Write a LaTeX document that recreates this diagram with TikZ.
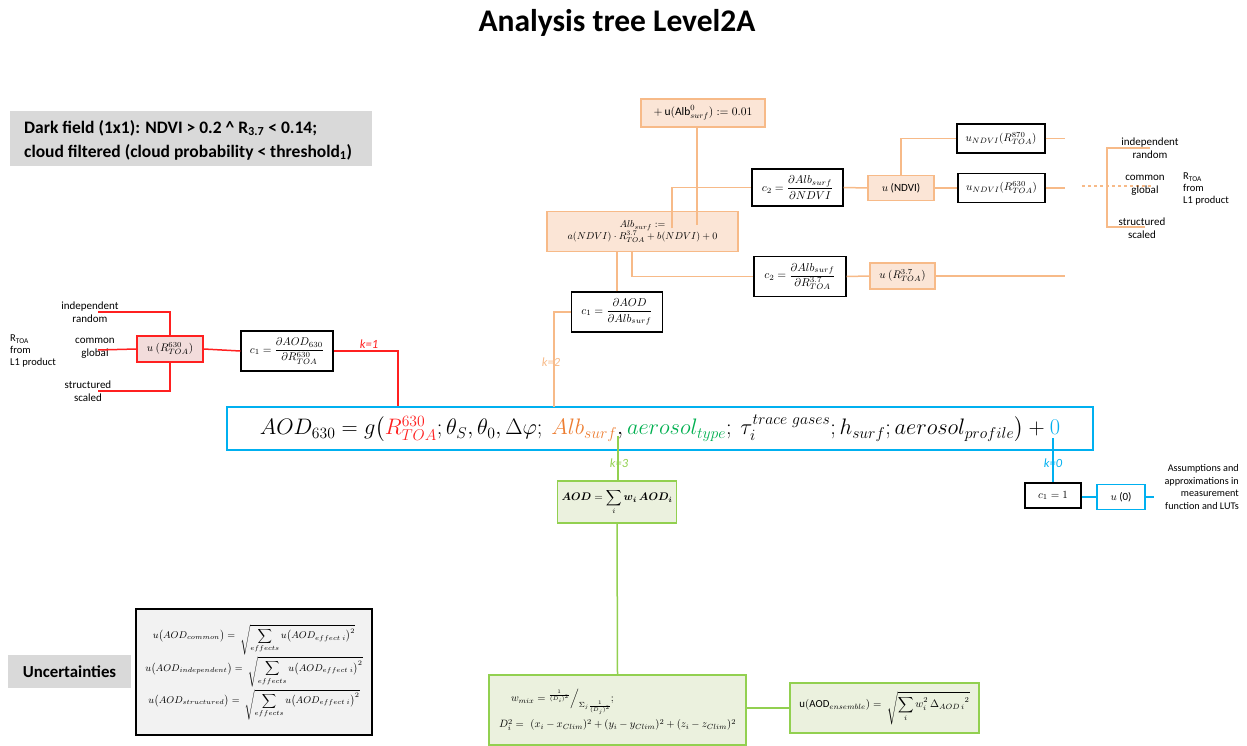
\RequirePackage{fix-cm}
\documentclass[tikz,border=0pt]{standalone}
\usepackage{amsmath}
\usepackage{fontspec}
\setmainfont{Carlito}
\setsansfont{Carlito}
\usetikzlibrary{calc}
\definecolor{cred}{HTML}{FF2020}
\definecolor{cpink}{HTML}{F2DCDB}
\definecolor{corl}{HTML}{F7BA88}
\definecolor{corf}{HTML}{FBE5D6}
\definecolor{cort}{HTML}{ED7D31}
\definecolor{cgrl}{HTML}{92D050}
\definecolor{cgrf}{HTML}{EBF1DE}
\definecolor{cgrt}{HTML}{00B050}
\definecolor{cblu}{HTML}{00B0F0}
\definecolor{cgray}{HTML}{D9D9D9}
\definecolor{cgrayf}{HTML}{F2F2F2}
\begin{document}
\begin{tikzpicture}[x=1pt,y=-1pt,
 base/.style={inner sep=1pt, align=center, font=\fontsize{11}{13}\selectfont},
 kbox/.style={base, draw=black, line width=1.4pt, fill=white},
 rbox/.style={base, draw=cred, line width=1.4pt, fill=cpink},
 obox/.style={base, draw=corl, line width=1.4pt, fill=corf},
 gbox/.style={base, draw=cgrl, line width=1.6pt, fill=cgrf},
 bbox/.style={base, draw=cblu, line width=1.4pt, fill=white},
 graybox/.style={fill=cgray, draw=none, inner sep=0pt},
 lbl/.style={align=center, font=\fontsize{11}{13}\selectfont, inner sep=0pt},
 klbl/.style={font=\fontsize{12.5}{14}\selectfont\itshape, inner sep=0pt},
 rl/.style={draw=cred, line width=1.5pt},
 ol/.style={draw=corl, line width=1.5pt},
 gl/.style={draw=cgrl, line width=1.5pt},
 bl/.style={draw=cblu, line width=1.5pt},
 ]
\useasboundingbox (0,0) rectangle (1247,746);

% title
\node[font=\fontsize{31.5}{36}\selectfont\bfseries, inner sep=0pt] (title) at (617,23) {Analysis tree Level2A};

% dark field box
\node[graybox, minimum width=362, minimum height=55] (dark) at (191,138.5) {};
\node[anchor=west, align=left, inner sep=0pt, font=\fontsize{17.5}{24}\selectfont\bfseries] (darkt) at (24,140)
  {Dark field (1x1): NDVI > 0.2 \^{} R\textsubscript{3.7} < 0.14;\\cloud filtered (cloud probability < threshold\textsubscript{1})};

% ---------- red branch ----------
\node[rbox, minimum width=66, minimum height=26] (uR) at (170,349) {$u\ (R^{630}_{TOA})$};
\node[kbox, minimum width=92, minimum height=40, font=\fontsize{11.2}{13}\selectfont] (c1r) at (287,351) {$c_1=\dfrac{\partial AOD_{630}}{\partial R^{630}_{TOA}}$};
\node[lbl] (lind) at (90,312) {independent\\random};
\node[lbl] (lcom) at (95,348) {common\\global};
\node[lbl] (lstr) at (88,391) {structured\\scaled};
\node[anchor=west, align=left, inner sep=0pt, font=\fontsize{10.5}{12}\selectfont] (lrtoa) at (10,351) {R\textsubscript{TOA}\\from\\L1 product};
\coordinate (pind) at (98,312);
\coordinate (pcom) at (98,350);
\coordinate (pstr) at (98,391);
\coordinate (k1top) at (398,407);
\draw[rl] (uR.north) |- (pind);
\draw[rl] (uR.west) -- (pcom);
\draw[rl] (uR.south) |- (pstr);
\draw[rl] (uR.east) -- (c1r.west);
\draw[rl] (c1r.east) -| (k1top);
\node[klbl, text=cred] (k1) at (369,344) {k=1};

% ---------- main equation ----------
\node[bbox, minimum width=866, minimum height=43, font=\fontsize{22.4}{26}\selectfont] (main) at (660,428.5)
 {$AOD_{630} = g\big(\textcolor{cred}{R^{630}_{TOA}};\theta_S,\theta_0,\Delta\varphi;\ \textcolor{cort}{Alb_{surf}},\textcolor{cgrt}{aerosol_{type}};\ \tau_i^{trace\ gases};h_{surf};aerosol_{profile}\big)+\textcolor{cblu}{0}$};

% ---------- orange branch ----------
\node[obox, minimum width=124, minimum height=28, font=\fontsize{11.5}{13}\selectfont] (up01) at (703,113) {$+\,\mathrm{u}(\mathrm{Alb}^{0}_{surf}) \mathrel{:}= 0.01$};
\node[obox, minimum width=191, minimum height=40, font=\fontsize{10}{11.5}\selectfont] (alb) at (642.5,231.5) {$Alb_{surf}\mathrel{:}=$\\$a(NDVI)\cdot R^{3.7}_{TOA}+b(NDVI)+0$};
\node[kbox, minimum width=91, minimum height=37, font=\fontsize{11.4}{13}\selectfont] (c2) at (797.5,187.5) {$c_2=\dfrac{\partial Alb_{surf}}{\partial NDVI}$};
\node[kbox, minimum width=92, minimum height=40, font=\fontsize{11.4}{13}\selectfont] (c3) at (800,276.5) {$c_2=\dfrac{\partial Alb_{surf}}{\partial R^{3.7}_{TOA}}$};
\node[kbox, minimum width=91, minimum height=40, font=\fontsize{11.4}{13}\selectfont] (c1o) at (617,312) {$c_1=\dfrac{\partial AOD}{\partial Alb_{surf}}$};
\node[obox, minimum width=66, minimum height=25] (uNDVI) at (901,188) {$u$ (NDVI)};
\node[obox, minimum width=65, minimum height=26] (uR37) at (902.5,276) {$u\ (R^{3.7}_{TOA})$};
\node[kbox, minimum width=88, minimum height=29] (uR870) at (1001,138.5) {$u_{NDVI}(R^{870}_{TOA})$};
\node[kbox, minimum width=87, minimum height=29] (uR630o) at (1001.5,188) {$u_{NDVI}(R^{630}_{TOA})$};

\coordinate (albA) at (697,225);
\coordinate (albB) at (672,228);
\coordinate (albC) at (632,251);
\coordinate (k2top) at (554,407);
\coordinate (e870) at (1065,138.5);
\coordinate (e630) at (1065,188);
\coordinate (e37) at (1065,276);
\coordinate (dA) at (1082,186);
\coordinate (dB) at (1153,186);
\coordinate (brA) at (1150,148);
\coordinate (brB) at (1107,148);
\coordinate (brC) at (1107,227);
\coordinate (brD) at (1145,227);

\draw[ol] (up01.south -| albA) -- (albA);
\draw[ol] (albB) |- (c2.west);
\draw[ol] (albC) |- (c3.west);
\draw[ol] (c1o.north) -- (c1o.north |- alb.south);
\draw[ol] (c1o.west) -| (k2top);
\draw[ol] (c2.east) -- (uNDVI.west);
\draw[ol] (uNDVI.east) -- (uR630o.west);
\draw[ol] (uNDVI.north) |- (uR870.west);
\draw[ol] (c3.east) -- (uR37.west);
\draw[ol] (uR870.east) -- (e870);
\draw[ol] (uR630o.east) -- (e630);
\draw[ol] (uR37.east) -- (e37);
\draw[ol, dashed] (dA) -- (dB);
\draw[ol] (brA) -- (brB) -- (brC) -- (brD);
\node[klbl, text=corl] (k2) at (551,362) {k=2};

\node[lbl] (rind) at (1150,148) {independent\\random};
\node[lbl] (rcom) at (1145,185) {common\\global};
\node[lbl] (rstr) at (1142,228) {structured\\scaled};
\node[anchor=west, align=left, inner sep=0pt, font=\fontsize{10.5}{12}\selectfont] (rrtoa) at (1183,189) {R\textsubscript{TOA}\\from\\L1 product};

% ---------- green branch ----------
\node[gbox, minimum width=119, minimum height=42] (aod) at (617,502) {$\boldsymbol{AOD}=\displaystyle\sum_i \boldsymbol{w_i\,AOD_i}$};
\node[gbox, minimum width=257, minimum height=70, text width=237pt, align=left, inner sep=10pt, font=\fontsize{10.6}{12}\selectfont] (wmix) at (617.5,710)
 {\hspace*{12pt}$w_{mix}=\raisebox{5pt}{$\scriptstyle\frac{1}{(D_i)^2}$}\Big/\raisebox{-6pt}{$\scriptstyle\Sigma_j\frac{1}{(D_j)^2}$};$\\[4pt]
  $D_i^2=\ (x_i-x_{Clim})^2+(y_i-y_{Clim})^2+(z_i-z_{Clim})^2$};
\node[gbox, minimum width=189, minimum height=50, font=\fontsize{10.8}{12}\selectfont] (ens) at (884.5,708) {$\mathrm{u}(\mathrm{AOD}_{ensemble})=\ \sqrt{\displaystyle\sum_i w_i^2\,\Delta_{AOD\,i}{}^2}$};
\coordinate (g0) at (618,436);
\draw[gl] (g0) -- (aod.north -| g0);
\draw[gl] (aod.south) -- (wmix.north);
\draw[gl] (wmix.east |- ens.west) -- (ens.west);
\node[klbl, text=cgrl] (k3) at (619,463) {k=3};

% ---------- blue branch ----------
\node[kbox, minimum width=56, minimum height=25] (c11) at (1053,495.5) {$c_1=1$};
\node[bbox, minimum width=48, minimum height=25] (u0) at (1121,497) {$u$ (0)};
\coordinate (b0) at (1053,438);
\coordinate (bend) at (1154,497);
\draw[bl] (b0) -- (c11.north);
\draw[bl] (c11.east |- u0.west) -- (u0.west);
\draw[bl] (u0.east) -- (bend);
\node[klbl, text=cblu] (k0) at (1053,463) {k=0};
\node[anchor=east, align=right, inner sep=0pt, font=\fontsize{10.2}{12.5}\selectfont] (assum) at (1239,487)
 {Assumptions and\\approximations in\\measurement\\function and LUTs};

% ---------- uncertainties ----------
\node[graybox, minimum width=123, minimum height=33, font=\fontsize{16.8}{19}\selectfont\bfseries] (unc) at (69.5,671.5) {Uncertainties};
\node[base, draw=black, line width=1.4pt, fill=cgrayf, minimum width=236, minimum height=126, font=\fontsize{9.8}{11}\selectfont] (uncf) at (254,672)
 {$\displaystyle u\big(AOD_{common}\big)=\ \sqrt{\sum_{effects}u\big(AOD_{effect\ i}\big)^2}$\\[1pt]
  $\displaystyle u\big(AOD_{independent}\big)=\ \sqrt{\sum_{effects}u\big(AOD_{effect\ i}\big)^2}$\\[1pt]
  $\displaystyle u\big(AOD_{structured}\big)=\ \sqrt{\sum_{effects}u\big(AOD_{effect\ i}\big)^2}$};
\end{tikzpicture}
\end{document}
